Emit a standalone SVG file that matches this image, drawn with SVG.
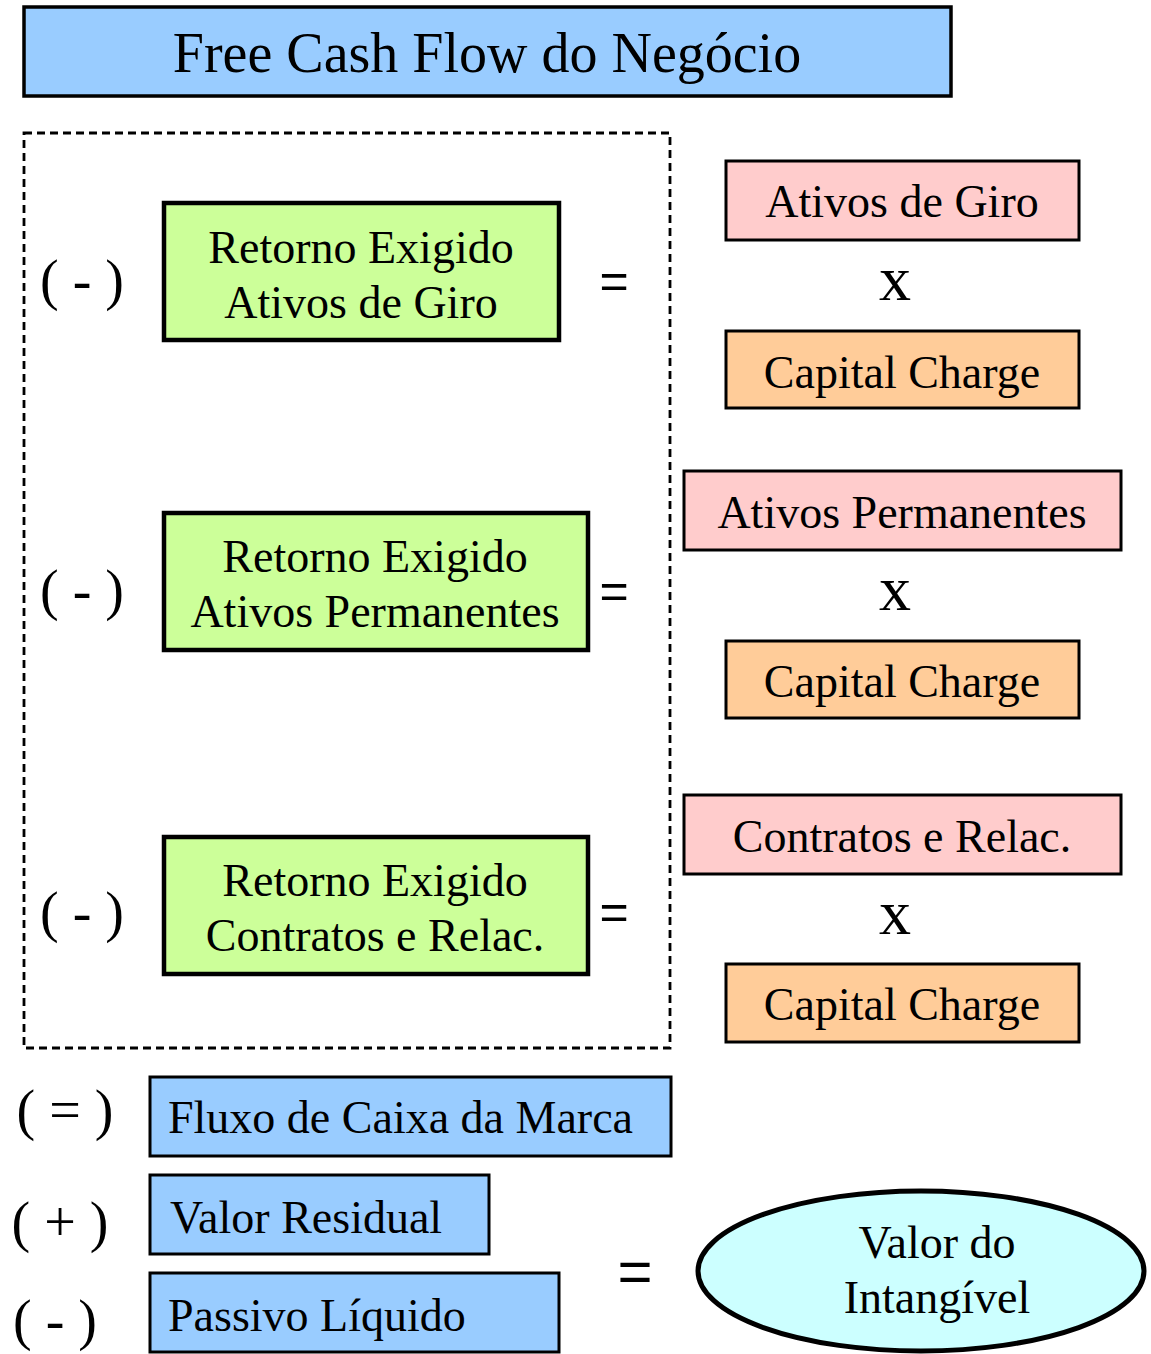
<svg xmlns="http://www.w3.org/2000/svg" width="1151" height="1354" viewBox="0 0 1151 1354">
<style>
.t{font-family:"Liberation Serif","Times New Roman",serif;font-size:46px;fill:#000;text-anchor:middle}
.tl{font-family:"Liberation Serif","Times New Roman",serif;font-size:46px;fill:#000}
.op{font-family:"Liberation Serif","Times New Roman",serif;font-size:56px;fill:#000;text-anchor:middle}
.eq{font-family:"Liberation Sans",Arial,sans-serif;font-size:50px;fill:#000;text-anchor:middle}
.xx{font-family:"Liberation Serif","Times New Roman",serif;font-size:64px;fill:#000;text-anchor:middle}
.blue{fill:#99CCFF;stroke:#000;stroke-width:3}
.green{fill:#CCFF99;stroke:#000;stroke-width:4.5}
.pink{fill:#FFCCCC;stroke:#000;stroke-width:3}
.orange{fill:#FFCC99;stroke:#000;stroke-width:3}
</style>
<rect width="1151" height="1354" fill="#fff"/>
<g id="title">
<rect class="blue" x="24" y="7" width="927" height="89" style="stroke-width:3.5"/>
<text class="t" x="487" y="72" style="font-size:56px">Free Cash Flow do Negócio</text>
</g>
<g id="group-box">
<rect x="24" y="133" width="646" height="915" fill="none" stroke="#000" stroke-width="2.8" stroke-dasharray="8 5"/>
</g>
<g id="op-1"><text class="op" x="82" y="299">( - )</text></g>
<g id="ret-giro">
<rect class="green" x="164" y="203" width="395" height="137"/>
<text class="t" x="361" y="263">Retorno Exigido</text>
<text class="t" x="361" y="318">Ativos de Giro</text>
</g>
<g id="eq-1"><text class="eq" x="614" y="298">=</text></g>
<g id="op-2"><text class="op" x="82" y="609">( - )</text></g>
<g id="ret-perm">
<rect class="green" x="164" y="513" width="424" height="137"/>
<text class="t" x="375" y="572">Retorno Exigido</text>
<text class="t" x="375" y="627">Ativos Permanentes</text>
</g>
<g id="eq-2"><text class="eq" x="614" y="608">=</text></g>
<g id="op-3"><text class="op" x="82" y="931">( - )</text></g>
<g id="ret-contr">
<rect class="green" x="164" y="837" width="424" height="137"/>
<text class="t" x="375" y="896">Retorno Exigido</text>
<text class="t" x="375" y="951">Contratos e Relac.</text>
</g>
<g id="eq-3"><text class="eq" x="614" y="929">=</text></g>

<g id="ativos-giro">
<rect class="pink" x="726" y="161" width="353" height="79"/>
<text class="t" x="902" y="217">Ativos de Giro</text>
</g>
<g id="x-1"><text class="xx" x="895" y="300">x</text></g>
<g id="cc-1">
<rect class="orange" x="726" y="331" width="353" height="77"/>
<text class="t" x="902" y="388">Capital Charge</text>
</g>
<g id="ativos-perm">
<rect class="pink" x="684" y="471" width="437" height="79"/>
<text class="t" x="902" y="528">Ativos Permanentes</text>
</g>
<g id="x-2"><text class="xx" x="895" y="610">x</text></g>
<g id="cc-2">
<rect class="orange" x="726" y="641" width="353" height="77"/>
<text class="t" x="902" y="697">Capital Charge</text>
</g>
<g id="contratos">
<rect class="pink" x="684" y="795" width="437" height="79"/>
<text class="t" x="902" y="852">Contratos e Relac.</text>
</g>
<g id="x-3"><text class="xx" x="895" y="934">x</text></g>
<g id="cc-3">
<rect class="orange" x="726" y="964" width="353" height="78"/>
<text class="t" x="902" y="1020">Capital Charge</text>
</g>

<g id="op-eq"><text class="op" x="65" y="1129">( = )</text></g>
<g id="fluxo">
<rect class="blue" x="150" y="1077" width="521" height="79"/>
<text class="tl" x="168" y="1133">Fluxo de Caixa da Marca</text>
</g>
<g id="op-plus"><text class="op" x="60" y="1241">( + )</text></g>
<g id="residual">
<rect class="blue" x="150" y="1175" width="339" height="79"/>
<text class="tl" x="170" y="1233">Valor Residual</text>
</g>
<g id="op-minus"><text class="op" x="55" y="1339">( - )</text></g>
<g id="passivo">
<rect class="blue" x="150" y="1273" width="409" height="79"/>
<text class="tl" x="168" y="1331">Passivo Líquido</text>
</g>
<g id="eq-final"><text class="eq" x="635" y="1292" style="font-size:60px">=</text></g>
<g id="intangivel">
<ellipse cx="921" cy="1271" rx="223" ry="80" fill="#CCFFFF" stroke="#000" stroke-width="5"/>
<text class="t" x="937" y="1258">Valor do</text>
<text class="t" x="937" y="1313">Intangível</text>
</g>
<g id="connectors"></g>
</svg>
